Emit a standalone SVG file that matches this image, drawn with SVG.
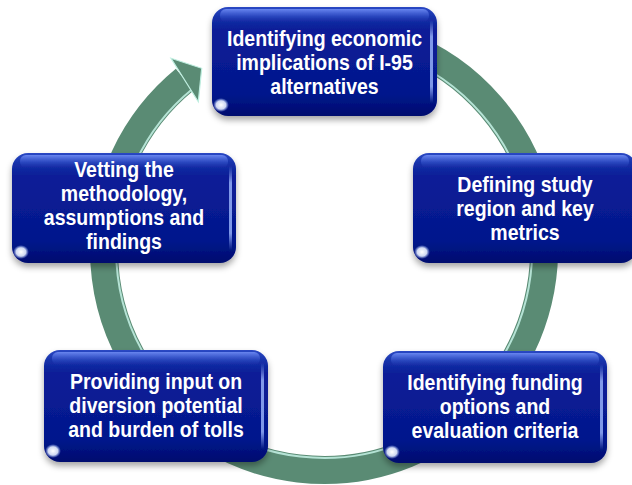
<svg xmlns="http://www.w3.org/2000/svg" width="632" height="485" viewBox="0 0 632 485">
  <defs>
    <linearGradient id="boxFill" x1="0" y1="0" x2="0" y2="1">
      <stop offset="0" stop-color="#2a48c4"/>
      <stop offset="0.1" stop-color="#1530a8"/>
      <stop offset="0.2" stop-color="#0a1f98"/>
      <stop offset="0.8" stop-color="#04168c"/>
      <stop offset="1" stop-color="#000c6e"/>
    </linearGradient>
    <linearGradient id="gloss" x1="0" y1="0" x2="0" y2="1">
      <stop offset="0" stop-color="#7f9cff" stop-opacity="0.75"/>
      <stop offset="1" stop-color="#3050d0" stop-opacity="0"/>
    </linearGradient>
    <linearGradient id="edge" x1="0" y1="0" x2="0" y2="1">
      <stop offset="0" stop-color="#9db8ff" stop-opacity="0"/>
      <stop offset="0.2" stop-color="#9db8ff" stop-opacity="0.8"/>
      <stop offset="0.8" stop-color="#9db8ff" stop-opacity="0.8"/>
      <stop offset="1" stop-color="#9db8ff" stop-opacity="0"/>
    </linearGradient>
    <radialGradient id="glint">
      <stop offset="0" stop-color="#ffffff"/>
      <stop offset="0.6" stop-color="#e6eeff" stop-opacity="0.9"/>
      <stop offset="1" stop-color="#9db8ff" stop-opacity="0"/>
    </radialGradient>
    <filter id="shadow" x="-10%" y="-10%" width="120%" height="130%">
      <feGaussianBlur in="SourceAlpha" stdDeviation="3"/>
      <feOffset dx="0" dy="4" result="b"/>
      <feFlood flood-color="#000000" flood-opacity="0.35"/>
      <feComposite in2="b" operator="in"/>
      <feMerge><feMergeNode/><feMergeNode in="SourceGraphic"/></feMerge>
    </filter>
    <style>
      .box { fill: url(#boxFill); }
      .gl { fill: url(#gloss); }
      .ed { fill: url(#edge); }
      .gt { fill: url(#glint); }
      .t { font-family: "Liberation Sans", Arial, sans-serif; font-weight: bold; font-size: 22.5px; fill: #ffffff; text-anchor: middle; }
      .ring { fill: none; stroke: #5a8b74; stroke-width: 28; }
      .ringhi { fill: none; stroke: #c6f2e6; stroke-width: 2; opacity: 0.85; }
      .head { fill: #5a8b74; stroke: #bfeee0; stroke-width: 1.2; stroke-linejoin: miter; }
    </style>
  </defs>

  <g id="connectors">
    <path class="ring" d="M 304.8 30.8 A 220 220 0 1 1 184.7 79.7"/>
    <path class="ringhi" d="M 305.8 42.8 A 208 208 0 1 1 192.4 89"/>
    <polygon class="head" points="171,58.3 201.7,68.3 198.3,101.7"/>
  </g>

  <g id="node-top">
    <rect class="box" x="212" y="7" width="225" height="109" rx="16" filter="url(#shadow)"/>
    <rect class="gl" x="220" y="9" width="209" height="13" rx="6"/>
    <rect class="ed" x="430" y="20" width="3" height="83"/>
    <ellipse class="gt" cx="221" cy="105" rx="8" ry="7"/>
    <text class="t" transform="translate(324.5 0) scale(0.867 1)"><tspan x="0" y="46">Identifying economic</tspan><tspan x="0" y="70">implications of I-95</tspan><tspan x="0" y="94.5">alternatives</tspan></text>
  </g>

  <g id="node-right">
    <rect class="box" x="413" y="153" width="224" height="110" rx="16" filter="url(#shadow)"/>
    <rect class="gl" x="421" y="155" width="208" height="13" rx="6"/>
    <ellipse class="gt" cx="422" cy="252" rx="8" ry="7"/>
    <text class="t" transform="translate(525 0) scale(0.867 1)"><tspan x="0" y="192.5">Defining study</tspan><tspan x="0" y="216.5">region and key</tspan><tspan x="0" y="240.5">metrics</tspan></text>
  </g>

  <g id="node-left">
    <rect class="box" x="12" y="153" width="224" height="110" rx="16" filter="url(#shadow)"/>
    <rect class="gl" x="20" y="155" width="208" height="13" rx="6"/>
    <rect class="ed" x="229" y="166" width="3" height="84"/>
    <ellipse class="gt" cx="21" cy="252" rx="8" ry="7"/>
    <text class="t" transform="translate(124 0) scale(0.867 1)"><tspan x="0" y="177.5">Vetting the</tspan><tspan x="0" y="201.5">methodology,</tspan><tspan x="0" y="225.5">assumptions and</tspan><tspan x="0" y="249.5">findings</tspan></text>
  </g>

  <g id="node-bottom-left">
    <rect class="box" x="44" y="350" width="224" height="112" rx="16" filter="url(#shadow)"/>
    <rect class="gl" x="52" y="352" width="208" height="13" rx="6"/>
    <rect class="ed" x="261" y="363" width="3" height="86"/>
    <ellipse class="gt" cx="53" cy="451" rx="8" ry="7"/>
    <text class="t" transform="translate(156 0) scale(0.867 1)"><tspan x="0" y="389.5">Providing input on</tspan><tspan x="0" y="413.5">diversion potential</tspan><tspan x="0" y="437.5">and burden of tolls</tspan></text>
  </g>

  <g id="node-bottom-right">
    <rect class="box" x="383" y="351" width="224" height="112" rx="16" filter="url(#shadow)"/>
    <rect class="gl" x="391" y="353" width="208" height="13" rx="6"/>
    <rect class="ed" x="600" y="364" width="3" height="86"/>
    <ellipse class="gt" cx="392" cy="452" rx="8" ry="7"/>
    <text class="t" transform="translate(495 0) scale(0.867 1)"><tspan x="0" y="390.5">Identifying funding</tspan><tspan x="0" y="414.5">options and</tspan><tspan x="0" y="438.5">evaluation criteria</tspan></text>
  </g>
</svg>
